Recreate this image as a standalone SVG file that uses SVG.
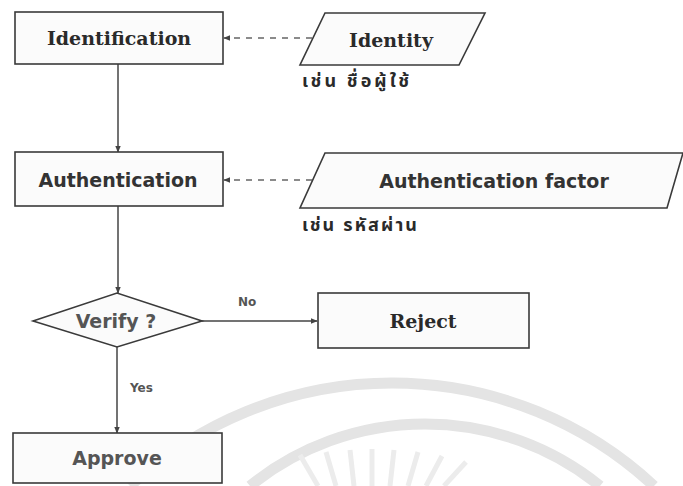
<svg xmlns="http://www.w3.org/2000/svg" width="683" height="486" viewBox="0 0 683 486">
<style>
  .box { fill: #fbfbfb; stroke: #3a3a3a; stroke-width: 1.6; }
  .serif { font-family: "DejaVu Serif", "Liberation Serif", serif; font-weight: bold; font-size: 19px; fill: #2a2a2a; text-anchor: middle; dominant-baseline: central; }
  .sans { font-family: "DejaVu Sans", "Liberation Sans", sans-serif; font-weight: bold; font-size: 19px; fill: #333; text-anchor: middle; dominant-baseline: central; }
  .grey { fill: #555; }
  .small { font-family: "DejaVu Sans", "Liberation Sans", sans-serif; font-weight: bold; font-size: 12px; fill: #555; }
  .thai { font-family: "Noto Sans Thai", "Noto Sans", "DejaVu Sans", sans-serif; font-weight: bold; font-size: 18px; fill: #2a2a2a; }
  .line { fill: none; stroke: #444; stroke-width: 1.5; }
  .dash { fill: none; stroke: #666; stroke-width: 1.5; stroke-dasharray: 6 6; }
  .wm { fill: none; stroke: #e4e4e4; stroke-width: 11; }
  .ray { fill: none; stroke: #ececec; stroke-width: 5; }
</style>
<defs>
  <marker id="arr" viewBox="0 0 10 10" refX="9" refY="5" markerWidth="7" markerHeight="7" orient="auto" markerUnits="userSpaceOnUse">
    <path d="M0,1 L10,5 L0,9 Z" fill="#444"/>
  </marker>
</defs>

<g id="watermark">
  <path class="wm" d="M130,486 A385,385 0 0 1 654,486"/>
  <path class="wm" d="M250,486 A278,278 0 0 1 600,486"/>
  <path class="ray" d="M318,486 L300,455"/>
  <path class="ray" d="M336,486 L326,452"/>
  <path class="ray" d="M354,486 L350,450"/>
  <path class="ray" d="M372,486 L372,449"/>
  <path class="ray" d="M390,486 L394,450"/>
  <path class="ray" d="M408,486 L418,452"/>
  <path class="ray" d="M426,486 L442,456"/>
  <path class="ray" d="M444,486 L466,462"/>
</g>

<g id="connectors">
  <path class="dash" d="M312,38 L224,38" marker-end="url(#arr)"/>
  <path class="dash" d="M312,180 L224,180" marker-end="url(#arr)"/>
  <path class="line" d="M118,64 L118,152" marker-end="url(#arr)"/>
  <path class="line" d="M118,206 L118,293" marker-end="url(#arr)"/>
  <path class="line" d="M202,321 L317,321" marker-end="url(#arr)"/>
  <path class="line" d="M117,347 L117,433" marker-end="url(#arr)"/>
  <text class="small" x="238" y="306">No</text>
  <text class="small" x="130" y="392">Yes</text>
</g>

<g id="identification">
  <rect class="box" x="15" y="12" width="208" height="52"/>
  <text class="serif" x="119" y="38">Identification</text>
</g>

<g id="identity">
  <polygon class="box" points="325,13 485,13 459,65 300,65"/>
  <text class="serif" x="391" y="40">Identity</text>
  <text class="thai" x="302" y="87" textLength="107" lengthAdjust="spacing">เช่น ชื่อผู้ใช้</text>
</g>

<g id="authentication">
  <rect class="box" x="15" y="152" width="208" height="54"/>
  <text class="sans" x="118" y="180">Authentication</text>
</g>

<g id="authentication-factor">
  <polygon class="box" points="325,153 683,153 667,208 300,208"/>
  <text class="sans" x="494" y="181">Authentication factor</text>
  <text class="thai" x="302" y="231" textLength="115" lengthAdjust="spacing">เช่น รหัสผ่าน</text>
</g>

<g id="verify">
  <polygon class="box" points="33,321 117,293 202,321 117,347"/>
  <text class="sans grey" x="116" y="321">Verify ?</text>
</g>

<g id="reject">
  <rect class="box" x="318" y="293" width="211" height="55"/>
  <text class="serif" x="423" y="321">Reject</text>
</g>

<g id="approve">
  <rect class="box" x="13" y="433" width="209" height="50"/>
  <text class="sans grey" x="117" y="458">Approve</text>
</g>
</svg>
